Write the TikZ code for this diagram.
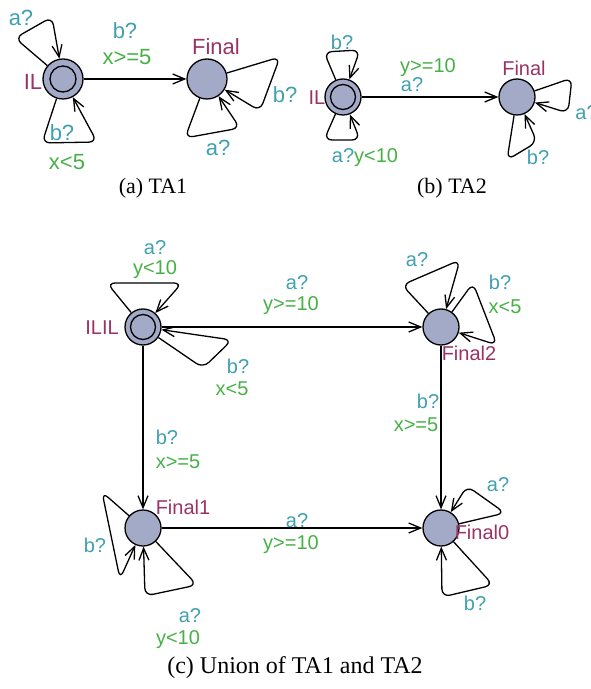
\documentclass[tikz,border=0pt]{standalone}
\usepackage{fontspec}
\setmainfont{Liberation Serif}
\setsansfont{Liberation Sans}
\usetikzlibrary{arrows.meta}
\definecolor{locname}{RGB}{153,51,102}
\definecolor{synclab}{RGB}{64,160,176}
\definecolor{guardlab}{RGB}{70,176,70}
\definecolor{locfill}{RGB}{163,170,200}
\begin{document}
\begin{tikzpicture}[x=0.5pt,y=-0.5pt,
  every node/.style={inner sep=0pt,font=\sffamily\fontsize{10}{12}\selectfont},
  bigtext/.style={font=\sffamily\fontsize{11}{13}\selectfont},
  loc/.style={circle,draw,line width=0.65pt,fill=locfill,minimum size=18pt},
  bigloc/.style={loc,minimum size=20pt},
  inner/.style={circle,draw,line width=0.65pt,minimum size=12.5pt},
  lname/.style={text=locname},
  sync/.style={text=synclab},
  guard/.style={text=guardlab},
  captext/.style={font=\rmfamily\fontsize{11}{13}\selectfont},
  trans/.style={line width=0.65pt,-{Straight Barb[length=6pt,width=5pt]}},
  selfloop/.style={trans,rounded corners=4pt}]
\useasboundingbox (0,0) rectangle (590,689);
\node[bigloc] (il1) at(63,79) {};
\node[inner,minimum size=13pt] (il1in) at(il1) {};
\node[bigloc] (fin1) at(207,79) {};
\node[lname,bigtext] (il1name) at(33,82) {IL};
\node[lname,bigtext] (fin1name) at(216,47) {Final};
\draw[trans] (il1) -- (fin1);
\node[sync,bigtext] (l1) at(125,31) {b?};
\node[guard,bigtext] (l2) at(127,57) {x>=5};
\draw[selfloop] (il1) -- (15,38) -- (52,17) -- (il1);
\node[sync,bigtext] (l3) at(21,18) {a?};
\draw[selfloop] (il1) -- (42,143) -- (97,142) -- (il1);
\node[sync,bigtext] (l4) at(62,133) {b?};
\node[guard,bigtext] (l5) at(67,162) {x<5};
\draw[selfloop] (fin1) -- (280,57) -- (260,111) -- (fin1);
\node[sync,bigtext] (l6) at(285,95) {b?};
\draw[selfloop] (fin1) -- (185,138) -- (240,128) -- (fin1);
\node[sync,bigtext] (l7) at(218,148) {a?};
\node[captext] (capa) at(153,188) {(a) TA1};

\node[loc] (il2) at(343,97) {};
\node[inner] (il2in) at(il2) {};
\node[loc] (fin2) at(517,97) {};
\node[lname] (il2name) at(317,98) {IL};
\node[lname] (fin2name) at(524,68) {Final};
\draw[trans] (il2) -- (fin2);
\node[guard] (m1) at(428,68) {y>=10};
\node[sync] (m2) at(412,85) {a?};
\draw[selfloop] (il2) -- (324,52) -- (360,50) -- (il2);
\node[sync] (m3) at(342,42) {b?};
\draw[selfloop] (il2) -- (324,140) -- (360,140) -- (il2);
\node (m4) at(365,158) {\textcolor{synclab}{a?}\textcolor{guardlab}{y<10}};
\draw[selfloop] (fin2) -- (572,78) -- (568,113) -- (fin2);
\node[sync,anchor=west] (m5) at(575,113) {a?};
\draw[selfloop] (fin2) -- (507,160) -- (537,142) -- (fin2);
\node[sync] (m6) at(538,157) {b?};
\node[captext] (capb) at(452,188) {(b) TA2};

\node[loc] (ilil) at(143,327) {};
\node[inner] (ililin) at(ilil) {};
\node[loc] (f2) at(441,327) {};
\node[loc] (f1) at(143,528) {};
\node[loc] (f0) at(441,528) {};
\node[lname] (ililname) at(102,328) {ILIL};
\node[lname] (f2name) at(469,353) {Final2};
\node[lname] (f1name) at(183,507) {Final1};
\draw[selfloop] (ilil) -- (107,283) -- (182,283) -- (ilil);
\node[sync] (n1) at(155,248) {a?};
\node[guard] (n2) at(155,270) {y<10};
\draw[selfloop] (ilil) -- (203,368) -- (232,340) -- (ilil);
\node[sync] (n3) at(238,366) {b?};
\node[guard] (n4) at(232,389) {x<5};
\draw[trans] (ilil) -- (f2);
\node[sync] (n5) at(297,283) {a?};
\node[guard] (n6) at(291,306) {y>=10};
\draw[trans] (ilil) -- (f1);
\node[sync] (n7) at(167,437) {b?};
\node[guard] (n8) at(178,462) {x>=5};
\draw[selfloop] (f2) -- (402,285) -- (460,260) -- (f2);
\node[sync] (n9) at(417,260) {a?};
\draw[selfloop] (f2) -- (473,283) -- (497,345) -- (f2);
\node[sync] (n10) at(500,282) {b?};
\node[guard] (n11) at(505,307) {x<5};
\draw[trans] (f2) -- (f0);
\node[sync] (n12) at(428,401) {b?};
\node[guard] (n13) at(416,425) {x>=5};
\draw[selfloop] (f1) -- (102,492) -- (120,579) -- (f1);
\node[sync] (n14) at(95,545) {b?};
\draw[selfloop] (f1) -- (197,585) -- (145,596) -- (f1);
\node[sync] (n15) at(190,616) {a?};
\node[guard] (n16) at(178,640) {y<10};
\draw[trans] (f1) -- (f0);
\node[sync] (n17) at(297,521) {a?};
\node[guard] (n18) at(291,545) {y>=10};
\draw[selfloop] (f0) -- (505,513) -- (467,486) -- (f0);
\node[sync] (n19) at(498,485) {a?};
\draw[selfloop] (f0) -- (493,585) -- (442,597) -- (f0);
\node[sync] (n20) at(475,603) {b?};
\node[lname] (f0name) at(482,532) {Final0};
\node[captext,font=\rmfamily\fontsize{12}{14}\selectfont] (capc) at(295,668) {(c) Union of TA1 and TA2};
\end{tikzpicture}
\end{document}
